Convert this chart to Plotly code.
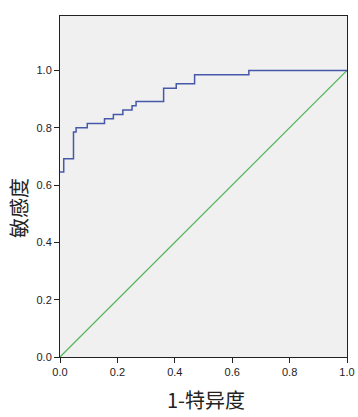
import plotly.graph_objects as go

fpr = [0.0, 0.0, 0.013, 0.013, 0.047, 0.047, 0.056, 0.056, 0.095, 0.095, 0.155, 0.155,
       0.186, 0.186, 0.219, 0.219, 0.251, 0.251, 0.265, 0.265, 0.361, 0.361, 0.405, 0.405,
       0.469, 0.469, 0.658, 0.658, 1.0]
tpr = [0.0, 0.646, 0.646, 0.692, 0.692, 0.785, 0.785, 0.800, 0.800, 0.815, 0.815, 0.831,
       0.831, 0.846, 0.846, 0.862, 0.862, 0.877, 0.877, 0.892, 0.892, 0.938, 0.938, 0.954,
       0.954, 0.985, 0.985, 1.0, 1.0]
ref_x = [0.0, 1.0]
ref_y = [0.0, 1.0]
tick_vals = [0.0, 0.2, 0.4, 0.6, 0.8, 1.0]
tick_text = ["0.0", "0.2", "0.4", "0.6", "0.8", "1.0"]
x_title = "1-特异度"
y_title = "敏感度"

fig = go.Figure()
fig.add_trace(go.Scatter(x=ref_x, y=ref_y, mode="lines",
                         line=dict(color="#58B65E", width=1.3), showlegend=False))
fig.add_trace(go.Scatter(x=fpr[1:], y=tpr[1:], mode="lines",
                         line=dict(color="#4658A8", width=1.5), showlegend=False))

axis_common = dict(showgrid=False, zeroline=False, showline=True, linecolor="#222222",
                   linewidth=1, mirror=True, ticks="outside", ticklen=5, tickcolor="#222222",
                   tickvals=tick_vals, ticktext=tick_text, automargin=False,
                   tickfont=dict(family="Liberation Sans, Arial", size=11, color="#222222"))

title_font = dict(family="Noto Sans CJK SC", size=20, color="#222222")
fig.update_layout(
    width=358, height=417,
    margin=dict(l=60, r=11, t=16, b=60),
    paper_bgcolor="white", plot_bgcolor="#F0F0F0",
    xaxis=dict(range=[0, 1.0], **axis_common),
    yaxis=dict(range=[0, 1.19], **axis_common),
    annotations=[
        dict(text=x_title, x=0.51, y=-0.125, xref="paper", yref="paper",
             showarrow=False, font=title_font, xanchor="center", yanchor="middle"),
        dict(text=y_title, x=-0.143, y=0.437, xref="paper", yref="paper", textangle=-90,
             showarrow=False, font=title_font, xanchor="center", yanchor="middle"),
    ],
)
fig.write_html(
    "out.html",
    config={"displayModeBar": False},
    post_script="document.body.style.margin='0';document.documentElement.style.overflow='hidden';",
)
